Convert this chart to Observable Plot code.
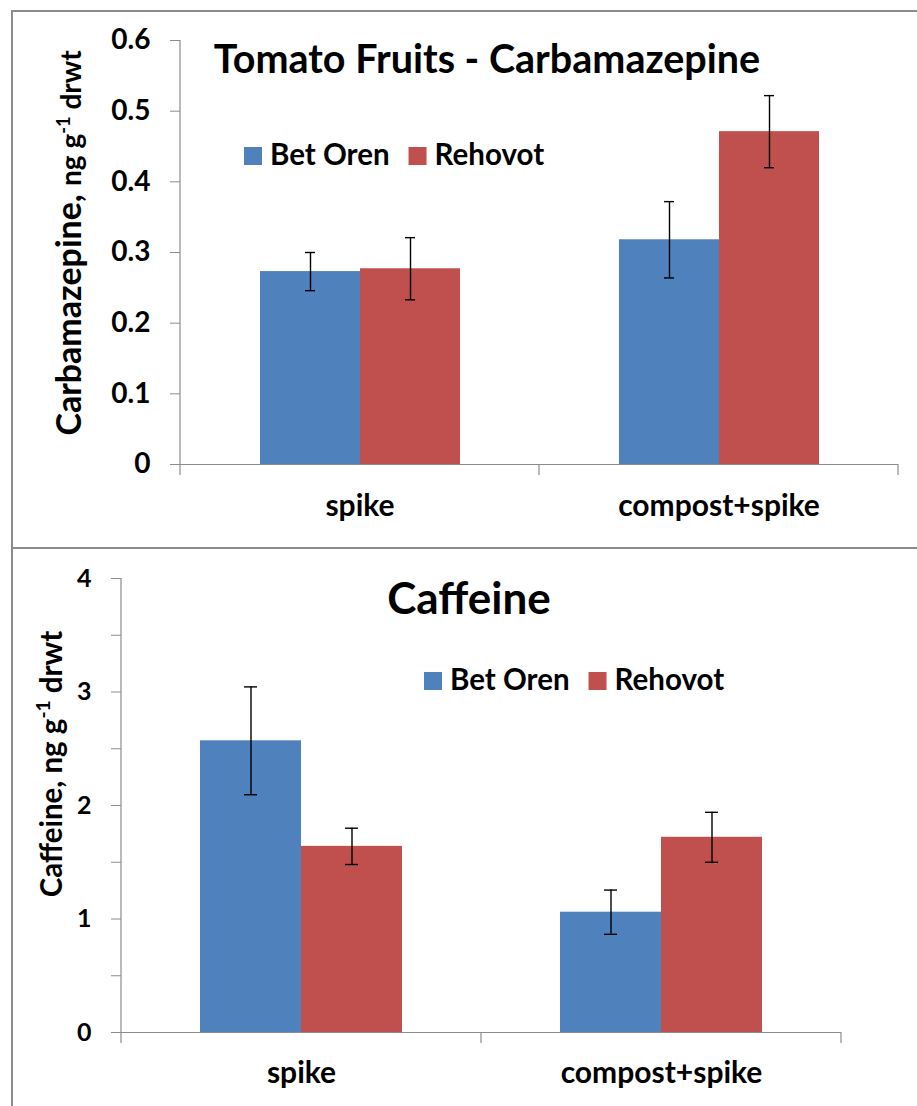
<!DOCTYPE html>
<html>
<head>
<meta charset="utf-8">
<script src="https://cdn.jsdelivr.net/npm/d3@7"></script>
<script src="https://cdn.jsdelivr.net/npm/@observablehq/plot@0.6"></script>
<style>
  html, body { margin: 0; padding: 0; background: #fff; overflow: hidden; }
  #page { position: relative; width: 917px; height: 1106px; overflow: hidden; font-family: Lato, "Open Sans", sans-serif; }
  .panel { position: absolute; left: 11px; width: 960px; border: 2px solid #8c8c8c; box-sizing: border-box; }
  .chart { position: absolute; left: 0; }
</style>
</head>
<body>
<div id="page">
  <div class="panel" style="top:10px;height:539px"></div>
  <div class="panel" style="top:547px;height:620px"></div>
</div>
<script>
// Treatments and sites
const categories = ["spike", "compost+spike"];
const sites = ["Bet Oren", "Rehovot"];
const siteColors = ["#4F81BD", "#C0504D"];

// Carbamazepine in tomato fruits, ng g-1 dry weight (rows: treatment, columns: site)
const carbMean = [[0.273, 0.277], [0.318, 0.471]];
const carbErr  = [[0.027, 0.044], [0.054, 0.051]];
const carbTicks = [0, 0.1, 0.2, 0.3, 0.4, 0.5, 0.6];
const carbTickLabels = ["0", "0.1", "0.2", "0.3", "0.4", "0.5", "0.6"];

// Caffeine in tomato fruits, ng g-1 dry weight
const cafMean = [[2.57, 1.64], [1.06, 1.72]];
const cafErr  = [[0.475, 0.16], [0.195, 0.22]];
const cafTicks = [0, 0.5, 1, 1.5, 2, 2.5, 3, 3.5, 4];
const cafTickLabels = ["0", "", "1", "", "2", "", "3", "", "4"];

const AXIS_GRAY = "#8c8c8c";

function toRows(mean, err) {
  return categories.flatMap((c, i) => sites.map((s, j) => ({
    category: c, site: s, value: mean[i][j],
    lo: mean[i][j] - err[i][j], hi: mean[i][j] + err[i][j]
  })));
}

function panel(cfg) {
  const rows = toRows(cfg.mean, cfg.err);
  const chart = Plot.plot({
    width: 917,
    height: cfg.height,
    marginLeft: cfg.marginLeft,
    marginRight: cfg.marginRight,
    marginTop: cfg.marginTop,
    marginBottom: cfg.marginBottom,
    style: { fontFamily: "Lato, 'Open Sans', sans-serif", fontWeight: "bold", fontSize: cfg.tickFont + "px", color: "#000", background: "transparent", overflow: "visible" },
    fx: { domain: categories, padding: 0, label: null },
    x: { domain: sites, paddingInner: 0, paddingOuter: cfg.paddingOuter, axis: null },
    y: { domain: [0, cfg.ticks[cfg.ticks.length - 1]], axis: null },
    color: { domain: sites, range: siteColors },
    marks: [
      Plot.barY(rows, { fx: "category", x: "site", y: "value", fill: "site" }),
      Plot.ruleY([0], { stroke: AXIS_GRAY, strokeWidth: 1.2 }),
      Plot.ruleX(rows, { fx: "category", x: "site", y1: "lo", y2: "hi", stroke: "#000", strokeWidth: 1.4 }),
      Plot.tickY(rows, { fx: "category", x: "site", y: "hi", stroke: "#000", strokeWidth: 1.4, insetLeft: cfg.capInset, insetRight: cfg.capInset }),
      Plot.tickY(rows, { fx: "category", x: "site", y: "lo", stroke: "#000", strokeWidth: 1.4, insetLeft: cfg.capInset, insetRight: cfg.capInset }),
      Plot.axisY({
        ticks: cfg.ticks, tickSize: 10, tickPadding: 20,
        tickFormat: (d) => cfg.tickLabels[cfg.ticks.indexOf(d)],
        stroke: AXIS_GRAY, fill: "#000", fontSize: cfg.tickFont, label: null
      }),
      Plot.axisFx({ anchor: "bottom", tickSize: 0, tickPadding: cfg.catPadding, fontSize: cfg.catFont, fill: "#000", label: null })
    ]
  });
  chart.classList.add("chart");
  chart.style.top = cfg.top + "px";
  document.getElementById("page").appendChild(chart);

  const svg = d3.select(chart);

  // Axis label sizes
  svg.selectAll("text")
    .filter(function () { return categories.includes(this.textContent); })
    .style("font-size", cfg.catFont + "px");
  svg.selectAll("text")
    .filter(function () { return this.textContent !== "" && cfg.tickLabels.includes(this.textContent); })
    .style("font-size", cfg.tickFont + "px");

  const fx = chart.scale("fx");
  const y = chart.scale("y");
  const color = chart.scale("color");
  const y0 = y.apply(0);
  const yTop = y.apply(cfg.ticks[cfg.ticks.length - 1]);
  const edges = categories.map((c) => fx.apply(c));
  edges.push(fx.apply(categories[categories.length - 1]) + fx.bandwidth);

  const g = svg.append("g").attr("stroke", AXIS_GRAY).attr("stroke-width", 1.2);
  g.append("line").attr("x1", edges[0]).attr("x2", edges[0]).attr("y1", yTop).attr("y2", y0 + 11);
  edges.slice(1).forEach((e) => {
    g.append("line").attr("x1", e).attr("x2", e).attr("y1", y0).attr("y2", y0 + 11);
  });

  // Title
  svg.append("text")
    .attr("x", cfg.titleX).attr("y", cfg.titleY)
    .attr("text-anchor", "middle")
    .attr("font-size", cfg.titleFont).attr("font-weight", "bold").attr("fill", "#000")
    .text(cfg.title);

  // Legend
  let lx = cfg.legendX;
  sites.forEach((s) => {
    svg.append("rect").attr("x", lx).attr("y", cfg.legendY - 18).attr("width", 18).attr("height", 18)
      .attr("fill", color.apply(s));
    const t = svg.append("text").attr("x", lx + 26).attr("y", cfg.legendY)
      .attr("text-anchor", "start")
      .attr("font-size", cfg.legendFont).attr("font-weight", "bold").attr("fill", "#000").text(s);
    lx = lx + 26 + t.node().getComputedTextLength() + 19;
  });

  // Y axis title with superscript unit
  const yl = svg.append("text")
    .attr("transform", `translate(${cfg.ylabX},${cfg.ylabY}) rotate(-90)`)
    .attr("text-anchor", "middle").attr("font-weight", "bold").attr("fill", "#000");
  yl.append("tspan").attr("font-size", cfg.ylabFont1).text(cfg.ylabName + ", ");
  yl.append("tspan").attr("font-size", cfg.ylabFont2).text("ng g");
  yl.append("tspan").attr("font-size", cfg.ylabFont2 * 0.65).attr("dy", -cfg.ylabFont2 * 0.4).text("-1");
  yl.append("tspan").attr("font-size", cfg.ylabFont2).attr("dy", cfg.ylabFont2 * 0.4).text(" drwt");
}

panel({
  mean: carbMean, err: carbErr, ticks: carbTicks, tickLabels: carbTickLabels,
  top: 0, height: 548, marginLeft: 180, marginRight: 19, marginTop: 40, marginBottom: 84,
  paddingOuter: 0.786, capInset: 45, tickFont: 28, catFont: 30, catPadding: 30,
  title: "Tomato Fruits - Carbamazepine", titleX: 487, titleY: 73, titleFont: 39.5,
  legendX: 244, legendY: 165, legendFont: 29.5,
  ylabName: "Carbamazepine", ylabX: 81, ylabY: 243, ylabFont1: 34, ylabFont2: 28
});

panel({
  mean: cafMean, err: cafErr, ticks: cafTicks, tickLabels: cafTickLabels,
  top: 548, height: 558, marginLeft: 121, marginRight: 76, marginTop: 30, marginBottom: 74,
  paddingOuter: 0.765, capInset: 44, tickFont: 25, catFont: 30, catPadding: 29,
  title: "Caffeine", titleX: 469, titleY: 66, titleFont: 44,
  legendX: 424, legendY: 142, legendFont: 29.5,
  ylabName: "Caffeine", ylabX: 62, ylabY: 216, ylabFont1: 29.5, ylabFont2: 29.5
});
</script>
</body>
</html>
